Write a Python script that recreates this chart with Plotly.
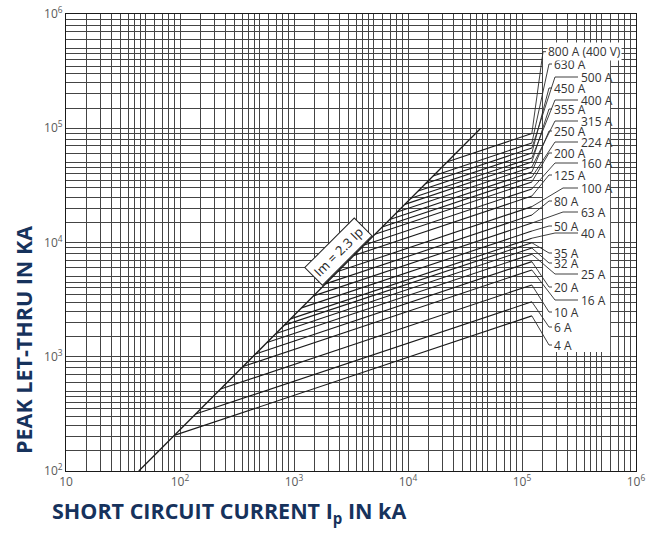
import math
import plotly.graph_objects as go

# ---------------- data ----------------
ratings = ["4 A", "6 A", "10 A", "16 A", "20 A", "25 A", "32 A", "35 A", "40 A",
           "50 A", "63 A", "80 A", "100 A", "125 A", "160 A", "200 A", "224 A",
           "250 A", "315 A", "355 A", "400 A", "450 A", "500 A", "630 A",
           "800 A (400 V)"]

# start of each curve (on the Im = 2.3 Ip line)
start_ip = [89, 137, 227, 357, 460, 580, 696, 822, 933,
            1164, 1483, 1888, 2421, 3350, 4140, 5130, 5940,
            6920, 8050, 9380, 10590, 12270, 14290, 16630, 22180]
start_peak = [205, 315, 522, 821, 1058, 1334, 1601, 1891, 2146,
              2677, 3411, 4342, 5568, 7705, 9522, 11800, 13660,
              15920, 18520, 21570, 24360, 28220, 32870, 38250, 51010]

# end of each curve
end_ip = 1.22e5
end_peak = [2280, 3030, 4250, 5750, 6800, 7900, 8950, 9950, 10900,
            12600, 14800, 17400, 20600, 25500, 29400, 33900, 37400,
            41400, 45800, 50700, 54900, 60700, 67100, 74300, 89900]

# Im = 2.3 Ip reference line
diag_ip = [43.5, 43500]
diag_peak = [100, 100000]

# tick labels
x_tick_vals = [10, 100, 1000, 10000, 100000, 1000000]
x_tick_text = ["10", "10<sup>2</sup>", "10<sup>3</sup>", "10<sup>4</sup>",
               "10<sup>5</sup>", "10<sup>6</sup>"]
y_tick_vals = [100, 1000, 10000, 100000, 1000000]
y_tick_text = ["10<sup>2</sup>", "10<sup>3</sup>", "10<sup>4</sup>",
               "10<sup>5</sup>", "10<sup>6</sup>"]
grid_mantissas = [1, 1.5, 2, 2.5, 3, 3.5, 4, 4.5, 5, 6, 7, 8, 9]

# ---------------- label placement (layout) ----------------
label_side = ["L", "L", "L", "R", "L", "R", "L", "L", "R",
              "L", "R", "L", "R", "L", "R", "L", "R",
              "L", "R", "L", "R", "L", "R", "L", "T"]
label_py = [345, 327, 312, 300, 287, 274, 263, 253, 233,
            226, 212, 201, 188, 175, 163, 153, 142,
            131, 121, 109, 100, 88, 77, 64, 51.7]

# pixel geometry of plot area
L, R, T, B = 66, 636, 14, 471
W, H = 661, 534
def px2lx(px):
    return 1 + 5 * (px - L) / (R - L)
def py2ly(py):
    return 6 - 4 * (py - T) / (B - T)

GRID = "#444444"
INK = "#1a1a1a"
NAVY = "#16325c"
FONT = "Open Sans"

fig = go.Figure()

# curves
for i, name in enumerate(ratings):
    fig.add_trace(go.Scatter(x=[start_ip[i], end_ip], y=[start_peak[i], end_peak[i]],
                             mode="lines", line=dict(color=INK, width=1.1),
                             hoverinfo="skip", showlegend=False))

fig.add_trace(go.Scatter(x=diag_ip, y=diag_peak, mode="lines",
                         line=dict(color=INK, width=1.3),
                         hoverinfo="skip", showlegend=False))

annotations = []
for i, name in enumerate(ratings):
    side = label_side[i]
    ly = py2ly(label_py[i])
    lyv = 10 ** ly
    if side == "L":
        knee, tail, tx = 549, 552, 553
    elif side == "R":
        knee = 563 if name in ("100 A", "63 A") else 555
        tail, tx = 578, 580
    else:
        knee, tail, tx = 543, 546, 546.5
    fig.add_trace(go.Scatter(x=[end_ip, 10 ** px2lx(knee), 10 ** px2lx(tail)],
                             y=[end_peak[i], lyv, lyv], mode="lines",
                             line=dict(color="#2a2a2a", width=0.9),
                             hoverinfo="skip", showlegend=False))
    annotations.append(dict(x=px2lx(tx), y=ly, xref="x", yref="y",
                            text=name, showarrow=False, xanchor="left",
                            yanchor="middle",
                            font=dict(family=FONT, size=12, color="#333333"),
                            bgcolor="white" if side == "T" else None,
                            borderpad=0))

# Im = 2.3 Ip tag
annotations.append(dict(x=px2lx(338), y=py2ly(252), xref="x", yref="y",
                        text="Im = 2.3 Ip", showarrow=False, textangle=-45,
                        bgcolor="white", bordercolor="#222", borderwidth=1,
                        borderpad=3,
                        font=dict(family=FONT, size=13, color="#222")))

# axis titles
annotations.append(dict(x=(50 - L) / (R - L), y=-(512 - B) / (B - T),
                        xref="paper", yref="paper", xanchor="left",
                        yanchor="middle", showarrow=False,
                        text="<b>SHORT CIRCUIT CURRENT I<sub>p</sub> IN kA</b>",
                        font=dict(family=FONT, size=21.5, color=NAVY)))
annotations.append(dict(x=(23 - L) / (R - L), y=(B - 340) / (B - T),
                        xref="paper", yref="paper", xanchor="center",
                        yanchor="middle", showarrow=False, textangle=-90,
                        text="<b>PEAK LET-THRU IN KA</b>",
                        font=dict(family=FONT, size=21.5, color=NAVY)))

# grid positions
xg = [m * 10 ** e for e in range(1, 6) for m in grid_mantissas] + [1e6]
yg = [m * 10 ** e for e in range(2, 6) for m in grid_mantissas] + [1e6]
def ticktexts(grid, vals, texts):
    out = []
    for g in grid:
        t = ""
        for v, s in zip(vals, texts):
            if abs(g - v) < 1e-6 * v:
                t = s
        out.append(t)
    return out

fig.update_layout(
    width=W, height=H,
    margin=dict(l=L, r=W - R, t=T, b=H - B, pad=0, autoexpand=False),
    paper_bgcolor="white", plot_bgcolor="white",
    showlegend=False,
    annotations=annotations,
    shapes=[dict(type="rect", xref="x", yref="y", x0=1.53e5, x1=5.93e5,
                 y0=1100, y1=4.95e5, fillcolor="white", line=dict(width=0),
                 layer="between")],
    xaxis=dict(type="log", range=[1, 6], tickmode="array", tickvals=xg,
               ticktext=ticktexts(xg, x_tick_vals, x_tick_text),
               showgrid=True, gridcolor=GRID, gridwidth=1, zeroline=False,
               showline=True, mirror=True, linecolor=INK, linewidth=1,
               automargin=False,
               ticks="", tickfont=dict(family=FONT, size=12, color="#5a5a5a")),
    yaxis=dict(type="log", range=[2, 6], tickmode="array", tickvals=yg,
               ticktext=ticktexts(yg, y_tick_vals, y_tick_text),
               showgrid=True, gridcolor=GRID, gridwidth=1, zeroline=False,
               showline=True, mirror=True, linecolor=INK, linewidth=1,
               automargin=False,
               ticks="", tickfont=dict(family=FONT, size=12, color="#5a5a5a")),
)

fig.write_html("out.html",
               config={"displayModeBar": False, "staticPlot": True},
               post_script="document.body.style.margin='0';"
                           "document.body.style.padding='0';")
